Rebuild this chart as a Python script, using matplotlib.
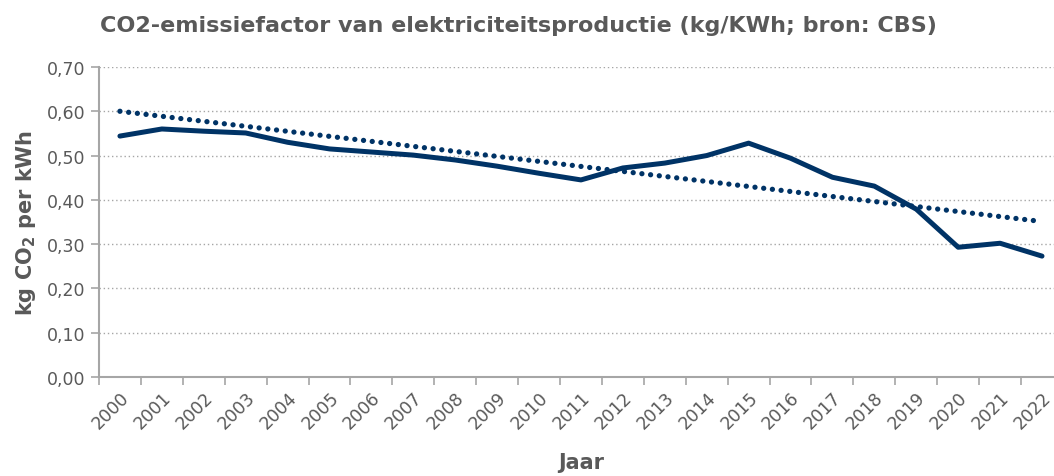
import numpy as np
import matplotlib.pyplot as plt

years = [str(y) for y in range(2000, 2023)]
emission = [0.544, 0.560, 0.555, 0.551, 0.530, 0.515, 0.508, 0.501, 0.490, 0.476,
            0.460, 0.445, 0.472, 0.483, 0.500, 0.528, 0.494, 0.451, 0.431, 0.379,
            0.293, 0.302, 0.273]
# trendline: value in first and last year
trend_ends = [0.600, 0.351]
yticks = [0.0, 0.1, 0.2, 0.3, 0.4, 0.5, 0.6, 0.7]

LINE = '#003366'
GREY = '#595959'

plt.rcParams['font.family'] = ['DejaVu Sans']

fig = plt.figure(figsize=(10.54, 4.77), dpi=100)
ax = fig.add_axes([0.0939, 0.2075, 0.9146, 0.65])

x = np.arange(len(years))
ax.plot(x, emission, color=LINE, lw=3.6, solid_joinstyle='round', solid_capstyle='round', zorder=3)

ax.plot([x[0], x[-1]], trend_ends, color=LINE, lw=3.8, linestyle=(0, (0.01, 1.65)),
        dash_capstyle='round', zorder=2)

ax.set_xlim(-0.5, len(years) - 0.5)
ax.set_ylim(0, 0.7)
ax.set_yticks(yticks)
ax.set_yticklabels([f"{v:.2f}".replace('.', ',') for v in yticks], fontsize=12.5, color=GREY)
ax.yaxis.grid(True, linestyle=(0, (1, 2)), color='#A6A6A6', lw=1.0)
ax.set_axisbelow(True)

ax.set_xticks(x)
ax.set_xticklabels(years, rotation=45, ha='right', va='top', rotation_mode='anchor',
                   fontsize=12.5, color=GREY)
ax.tick_params(axis='x', which='major', length=0, pad=8)
ax.set_xticks(np.arange(-0.5, len(years), 1), minor=True)
ax.tick_params(axis='x', which='minor', length=6, color='#A6A6A6', width=1.2)
ax.tick_params(axis='y', length=6, color='#A6A6A6', width=1.2, pad=4)

for s in ['top', 'right']:
    ax.spines[s].set_visible(False)
for s in ['left', 'bottom']:
    ax.spines[s].set_color('#A6A6A6')
    ax.spines[s].set_linewidth(1.5)

ax.set_xlabel('Jaar', fontsize=15, fontweight='bold', color=GREY, labelpad=14)
ax.set_ylabel('kg CO$_\\mathbf{2}$ per kWh', fontsize=15, fontweight='bold', color=GREY, labelpad=6)
fig.text(0.492, 0.945, 'CO2-emissiefactor van elektriciteitsproductie (kg/KWh; bron: CBS)',
         ha='center', va='center', fontsize=16, fontweight='bold', color=GREY)

fig.savefig('out.png', dpi=100)
